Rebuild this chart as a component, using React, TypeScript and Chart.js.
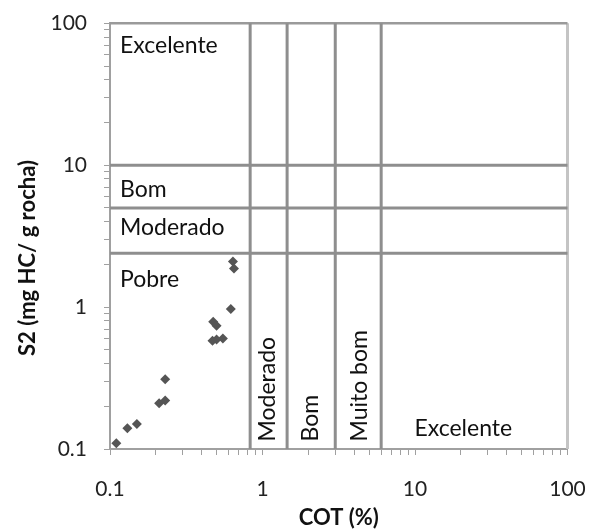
import React, { useEffect, useRef } from "react";
import { Chart, registerables } from "chart.js";

Chart.register(...registerables);

// ---- data ----
const cotValues = [0.11, 0.13, 0.15, 0.21, 0.23, 0.23, 0.64, 0.65, 0.62, 0.475, 0.5, 0.47, 0.5, 0.55];
const s2Values = [0.11, 0.14, 0.15, 0.21, 0.22, 0.31, 2.1, 1.87, 0.97, 0.79, 0.74, 0.58, 0.59, 0.6];

// class boundaries
const s2Limits = [10, 5, 2.4];
const cotLimits = [0.83, 1.45, 3, 6];

const s2ClassLabels = ["Excelente", "Bom", "Moderado", "Pobre"];
const cotClassLabels = ["Moderado", "Bom", "Muito bom", "Excelente"];

const axisMin = 0.1;
const axisMax = 100;
const tickLabels = ["0.1", "1", "10", "100"];
const tickValues = [0.1, 1, 10, 100];

const xTitle = "COT (%)";
const yTitle = "S2 (mg HC/ g rocha)";

const FONT = "Lato, 'Open Sans', sans-serif";

function allLogTicks() {
  const out: { value: number; major: boolean }[] = [];
  for (let e = -1; e < 2; e++) {
    for (let m = 1; m < 10; m++) {
      out.push({ value: +(m * Math.pow(10, e)).toPrecision(3), major: m === 1 });
    }
  }
  out.push({ value: 100, major: true });
  return out;
}

function labelFor(v: number) {
  const i = tickValues.findIndex((t) => Math.abs(t - v) / t < 1e-6);
  return i >= 0 ? tickLabels[i] : "";
}

const textPlugin = {
  id: "classText",
  afterDatasetsDraw(chart: any) {
    const { ctx, chartArea, scales } = chart;
    const x = scales.x;
    const y = scales.y;
    ctx.save();
    ctx.fillStyle = "#111111";
    ctx.font = `23px ${FONT}`;
    ctx.textBaseline = "alphabetic";
    ctx.textAlign = "left";

    const s2Tops = [axisMax, ...s2Limits];
    const s2Offsets = [30, 31.7, 26.7, 34];
    s2ClassLabels.forEach((t, i) => {
      ctx.fillText(t, chartArea.left + 10, y.getPixelForValue(s2Tops[i]) + s2Offsets[i]);
    });

    const cotOffsets = [25, 30.6, 31.7];
    for (let i = 0; i < 3; i++) {
      ctx.save();
      ctx.translate(x.getPixelForValue(cotLimits[i]) + cotOffsets[i], chartArea.bottom - 7.5);
      ctx.rotate(-Math.PI / 2);
      ctx.fillText(cotClassLabels[i], 0, 0);
      ctx.restore();
    }
    ctx.fillText(cotClassLabels[3], x.getPixelForValue(cotLimits[3]) + 33.3, chartArea.bottom - 13);

    ctx.font = `bold 22px ${FONT}`;
    ctx.textAlign = "center";
    ctx.fillText(xTitle, (chartArea.left + chartArea.right) / 2, 525);
    ctx.translate(35, 258);
    ctx.rotate(-Math.PI / 2);
    ctx.fillText(yTitle, 0, 0);
    ctx.restore();
  },
};

export default function App() {
  const canvasRef = useRef<HTMLCanvasElement | null>(null);

  useEffect(() => {
    const canvas = canvasRef.current;
    if (!canvas) return;

    const lineColor = "#8e8e8e";
    const lineDatasets: any[] = [];
    s2Limits.forEach((v) =>
      lineDatasets.push({
        data: [{ x: axisMin, y: v }, { x: axisMax, y: v }],
        showLine: true,
        borderColor: lineColor,
        borderWidth: 3,
        pointRadius: 0,
        clip: false,
      })
    );
    cotLimits.forEach((v) =>
      lineDatasets.push({
        data: [{ x: v, y: axisMin }, { x: v, y: axisMax }],
        showLine: true,
        borderColor: lineColor,
        borderWidth: 3,
        pointRadius: 0,
        clip: false,
      })
    );
    // top frame and right frame
    lineDatasets.push({
      data: [{ x: axisMin, y: axisMax }, { x: axisMax, y: axisMax }],
      showLine: true,
      borderColor: "#9a9a9a",
      borderWidth: 2.5,
      pointRadius: 0,
      clip: false,
    });
    lineDatasets.push({
      data: [{ x: axisMax, y: axisMin }, { x: axisMax, y: axisMax }],
      showLine: true,
      borderColor: "#c4c4c4",
      borderWidth: 3,
      pointRadius: 0,
      clip: false,
    });

    const points = cotValues.map((c, i) => ({ x: c, y: s2Values[i] }));

    const commonScale = (isX: boolean) => ({
      type: "logarithmic" as const,
      min: axisMin,
      max: axisMax,
      afterBuildTicks: (s: any) => {
        s.ticks = allLogTicks();
      },
      afterFit: (s: any) => {
        if (isX) s.height = 82;
        else s.width = 110;
        s.paddingLeft = 0;
        s.paddingRight = 0;
        s.paddingTop = 0;
        s.paddingBottom = 0;
      },
      ticks: {
        autoSkip: false,
        maxRotation: 0,
        minRotation: 0,
        padding: isX ? 22 : 17,
        color: "#222222",
        font: { family: FONT, size: 21 },
        callback: (v: any) => labelFor(Number(v)),
      },
      grid: {
        drawOnChartArea: false,
        drawTicks: true,
        tickLength: 6,
        tickColor: "#a0a0a0",
        color: "#a0a0a0",
        lineWidth: 1,
      },
      border: { display: true, color: "#a0a0a0", width: 2 },
    });

    const chart = new Chart(canvas, {
      type: "scatter",
      data: {
        datasets: [
          {
            data: points,
            pointStyle: "rectRot",
            pointRadius: 5,
            pointBackgroundColor: "#555555",
            pointBorderColor: "#555555",
            pointBorderWidth: 0,
            showLine: false,
          },
          ...lineDatasets,
        ],
      },
      options: {
        responsive: false,
        animation: false,
        layout: { padding: { top: 23.3, right: 21.5, left: 0, bottom: 0 } },
        plugins: { legend: { display: false }, tooltip: { enabled: false } },
        scales: {
          x: { ...commonScale(true), position: "bottom" },
          y: { ...commonScale(false), position: "left" },
        },
      },
      plugins: [textPlugin],
    });

    return () => chart.destroy();
  }, []);

  return (
    <div style={{ position: "absolute", left: 0, top: 0, width: 589, height: 531, background: "#fff" }}>
      <canvas ref={canvasRef} width={589} height={531} style={{ display: "block" }} />
    </div>
  );
}
